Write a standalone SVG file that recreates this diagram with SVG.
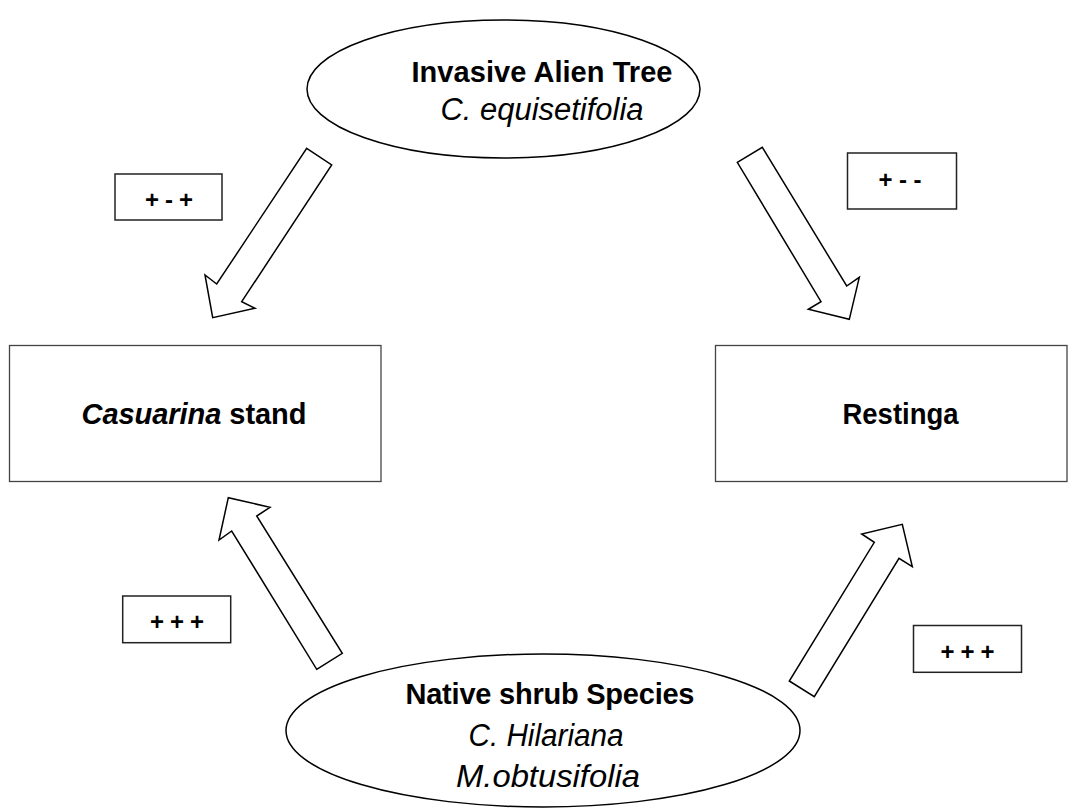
<svg xmlns="http://www.w3.org/2000/svg" width="1076" height="809" viewBox="0 0 1076 809">
<style>
.shape{fill:#fff;stroke:#000;stroke-width:1.5}
.box{fill:#fff;stroke:#444;stroke-width:1.3}
.lbl{fill:#fff;stroke:#222;stroke-width:1.5}
.arrow{fill:#fff;stroke:#000;stroke-width:1.5;stroke-linejoin:miter}
text{font-family:"Liberation Sans",Arial,sans-serif;fill:#000;text-anchor:middle}
.big{font-size:29px}
.it{font-size:31px;font-style:italic}
.b{font-weight:bold}
.i{font-style:italic}
.sm{font-size:24px;font-weight:bold}
</style>
<rect width="1076" height="809" fill="#fff"/>
<g id="connectors">
<polygon class="arrow" points="306.7,148.3 331.7,165 241.7,301.7 255,308.3 212.7,317.7 205,275 216.7,284"/>
<polygon class="arrow" points="737.3,162.3 762.3,147.3 846.7,286 859.3,277.3 849.3,319.3 808.3,309.3 821,301.7"/>
<polygon class="arrow" points="316.7,669.3 342.3,653.3 256.7,516 270,507.3 228.3,497.7 219,540 231.7,531"/>
<polygon class="arrow" points="789.3,681 814.3,696.7 899,558.3 912.3,566.7 902.3,524.3 861.7,534 874.3,542.3"/>
</g>
<g id="invasive-tree">
<ellipse class="shape" cx="503.5" cy="89" rx="196.5" ry="69"/>
<text class="big b" x="542" y="82" textLength="261">Invasive Alien Tree</text>
<text class="it" x="542" y="120" textLength="203" lengthAdjust="spacingAndGlyphs">C. equisetifolia</text>
</g>
<g id="native-shrub">
<ellipse class="shape" cx="543" cy="730.5" rx="257" ry="76.5"/>
<text class="big b" x="550" y="704" textLength="289">Native shrub Species</text>
<text class="it" x="546" y="746" textLength="155" lengthAdjust="spacingAndGlyphs">C. Hilariana</text>
<text class="it" x="548" y="787" textLength="184" lengthAdjust="spacingAndGlyphs">M.obtusifolia</text>
</g>
<g id="casuarina-stand">
<rect class="box" x="9.5" y="345.5" width="371.5" height="136"/>
<text class="big b" x="194" y="424" textLength="225"><tspan class="i">Casuarina</tspan> stand</text>
</g>
<g id="restinga">
<rect class="box" x="715.5" y="345.5" width="351.5" height="136"/>
<text class="big b" x="900.5" y="424" textLength="116" lengthAdjust="spacingAndGlyphs">Restinga</text>
</g>
<g id="label-tl">
<rect class="lbl" x="115" y="174" width="107" height="46"/>
<text class="sm" x="169" y="207.5" textLength="48">+ - +</text>
</g>
<g id="label-tr">
<rect class="lbl" x="847.5" y="153" width="109" height="56"/>
<text class="sm" x="900" y="187.5" textLength="43">+ - -</text>
</g>
<g id="label-bl">
<rect class="lbl" x="122.7" y="596" width="108" height="46.7"/>
<text class="sm" x="177" y="629.7" textLength="54">+ + +</text>
</g>
<g id="label-br">
<rect class="lbl" x="913.5" y="625.5" width="108" height="46.8"/>
<text class="sm" x="967.5" y="659.7" textLength="54">+ + +</text>
</g>
</svg>
